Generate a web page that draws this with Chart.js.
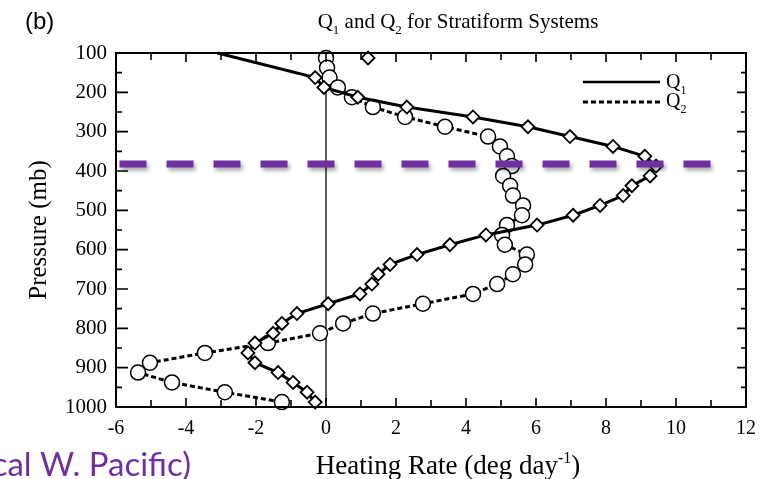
<!DOCTYPE html>
<html><head><meta charset="utf-8">
<script src="https://cdn.jsdelivr.net/npm/chart.js@4/dist/chart.umd.min.js"></script>
<style>html,body{margin:0;padding:0;background:#fff;}#wrap{width:774px;height:479px;position:relative;}canvas{display:block;}</style>
</head><body><div id="wrap"><canvas id="c" width="774" height="479"></canvas></div>
<script>
// Pressure levels (mb)
const levels = [100,112.5,137.5,162.5,187.5,212.5,237.5,262.5,287.5,312.5,337.5,362.5,387.5,412.5,437.5,462.5,487.5,512.5,537.5,562.5,587.5,612.5,637.5,662.5,687.5,712.5,737.5,762.5,787.5,812.5,837.5,862.5,887.5,912.5,937.5,962.5,987.5];
// Q1 heating rate (deg/day)
const q1 = [-3.1,null,null,-0.31,-0.06,0.91,2.31,4.2,5.77,6.97,8.2,9.11,9.43,9.26,8.74,8.49,7.83,7.06,6.03,4.57,3.54,2.6,1.83,1.49,1.31,0.97,0.06,-0.83,-1.26,-1.51,-2.03,-2.23,-2.03,-1.37,-0.94,-0.54,-0.31];
// Q2 heating rate (deg/day)
const q2 = [null,0.0,0.03,0.1,0.34,0.74,1.34,2.26,3.4,4.63,4.97,5.17,5.31,5.06,5.26,5.34,5.63,5.6,5.17,5.03,5.11,5.74,5.69,5.34,4.89,4.2,2.77,1.34,0.49,-0.17,-1.66,-3.46,-5.03,-5.37,-4.4,-2.89,-1.26];
// isolated Q1 marker near the top
const q1ExtraLevel = [112.5];
const q1ExtraValue = [1.2];
// highlighted level (purple dashed line)
const refLevel = [382, 382];
const refX = [-5.9, 11.05];
// zero reference line
const zeroX = [0, 0];
const zeroP = [100, 1000];
// tick labels
const xTicks = [-6,-4,-2,0,2,4,6,8,10,12];
const yTicks = [100,200,300,400,500,600,700,800,900,1000];

const pts = (xs, ps) => xs.map((v,i)=>({x:v, y:ps[i]})).filter(p=>p.x!==null);
const SERIF = '"Liberation Serif", "DejaVu Serif", serif';
const PURPLE = '#7030A0';

function rich(ctx, parts, x, y, size, align) {
  const fs = m => m===0 ? size : Math.round(size*0.6);
  let w = 0;
  parts.forEach(([t,m]) => { ctx.font = fs(m)+'px '+SERIF; w += ctx.measureText(t).width; });
  let cx = align==='center' ? x - w/2 : x;
  parts.forEach(([t,m]) => {
    ctx.font = fs(m)+'px '+SERIF;
    const dy = m===-1 ? size*0.3 : (m===1 ? -size*0.42 : 0);
    ctx.fillText(t, cx, y+dy);
    cx += ctx.measureText(t).width;
  });
  return w;
}

const deco = {
  id: 'deco',
  beforeDatasetDraw(chart, args) {
    if (args.index === 0) {
      const c = chart.ctx; c.save();
      c.shadowColor = 'rgba(0,0,0,0.35)'; c.shadowBlur = 4; c.shadowOffsetX = 2; c.shadowOffsetY = 3;
    }
  },
  afterDatasetDraw(chart, args) { if (args.index === 0) chart.ctx.restore(); },
  afterDraw(chart) {
    const ctx = chart.ctx, a = chart.chartArea, xs = chart.scales.x, ys = chart.scales.y;
    ctx.save();
    ctx.strokeStyle = '#000'; ctx.lineWidth = 2;
    ctx.strokeRect(a.left, a.top, a.right-a.left, a.bottom-a.top);
    ctx.lineWidth = 1.6;
    ctx.beginPath();
    for (let v = -6; v <= 12; v++) {
      const px = xs.getPixelForValue(v);
      const L = v % 2 === 0 ? 9 : 7;
      ctx.moveTo(px, a.bottom); ctx.lineTo(px, a.bottom - L);
      ctx.moveTo(px, a.top); ctx.lineTo(px, a.top + L);
    }
    for (let p = 100; p <= 1000; p += 50) {
      const py = ys.getPixelForValue(p);
      const L = p % 100 === 0 ? 12 : 6;
      ctx.moveTo(a.left, py); ctx.lineTo(a.left + L, py);
      ctx.moveTo(a.right, py); ctx.lineTo(a.right - (p%100===0?9:5), py);
    }
    ctx.stroke();
    ctx.fillStyle = '#000'; ctx.textBaseline = 'alphabetic';
    ctx.font = '24px "Liberation Sans", Arial, sans-serif';
    ctx.fillText('(b)', 25, 29);
    rich(ctx, [['Q',0],['1',-1],[' and Q',0],['2',-1],[' for Stratiform Systems',0]], 458, 28, 21, 'center');
    rich(ctx, [['Heating Rate (deg day',0],['-1',1],[')',0]], 448, 474, 27, 'center');
    ctx.save(); ctx.translate(46, 230); ctx.rotate(-Math.PI/2);
    rich(ctx, [['Pressure (mb)',0]], 0, 0, 25, 'center');
    ctx.restore();
    // legend
    ctx.lineWidth = 2.6;
    ctx.beginPath(); ctx.setLineDash([]); ctx.moveTo(583, 82); ctx.lineTo(660, 82); ctx.stroke();
    ctx.beginPath(); ctx.setLineDash([5,3]); ctx.lineWidth = 3; ctx.moveTo(583, 102); ctx.lineTo(660, 102); ctx.stroke();
    ctx.setLineDash([]);
    rich(ctx, [['Q',0],['1',-1]], 666, 88, 20, 'left');
    rich(ctx, [['Q',0],['2',-1]], 666, 107, 20, 'left');
    ctx.fillStyle = PURPLE;
    ctx.font = '33px Lato, "Open Sans", sans-serif';
    ctx.textAlign = 'right';
    ctx.fillText('(Tropical W. Pacific)', 191, 476);
    ctx.restore();
  }
};

new Chart(document.getElementById('c'), {
  type: 'scatter',
  data: { datasets: [
    { label: 'ref', data: pts(refX, refLevel), showLine: true, borderColor: PURPLE, borderWidth: 7, borderDash: [27,20], borderCapStyle: 'butt', pointRadius: 0 },
    { label: 'Q1top', data: pts(q1ExtraValue, q1ExtraLevel), showLine: false, pointStyle: 'rectRot', pointRadius: 6.5, pointBackgroundColor: '#fff', pointBorderColor: '#000', pointBorderWidth: 1.8 },
    { label: 'Q1', data: pts(q1, levels), showLine: true, spanGaps: true, borderColor: '#000', borderWidth: 3, pointStyle: 'rectRot', pointRadius: c => c.dataIndex === 0 ? 0 : 6.5, pointBackgroundColor: '#fff', pointBorderColor: '#000', pointBorderWidth: 1.8 },
    { label: 'Q2', data: pts(q2, levels), showLine: true, borderColor: '#000', borderWidth: 3, borderDash: [5,3], pointStyle: 'circle', pointRadius: 7.5, pointBackgroundColor: '#fff', pointBorderColor: '#000', pointBorderWidth: 1.5 },
    { label: 'zero', data: pts(zeroX, zeroP), showLine: true, borderColor: '#000', borderWidth: 1.3, pointRadius: 0 }
  ]},
  options: {
    responsive: false, animation: false, clip: false,
    layout: { padding: { top: 53, right: 28, left: 0, bottom: 0 } },
    plugins: { legend: { display: false }, tooltip: { enabled: false }, title: { display: false } },
    elements: { line: { tension: 0 } },
    scales: {
      x: { type: 'linear', min: -6, max: 12,
        afterBuildTicks: s => { s.ticks = xTicks.map(v => ({value: v})); },
        ticks: { color: '#000', font: { family: SERIF, size: 20 }, padding: 10, callback: v => String(v) },
        grid: { display: false, drawTicks: false }, border: { display: false },
        afterFit: s => { s.height = 72; } },
      y: { type: 'linear', reverse: true, min: 100, max: 1000,
        afterBuildTicks: s => { s.ticks = yTicks.map(v => ({value: v})); },
        ticks: { color: '#000', font: { family: SERIF, size: 21 }, padding: 9, callback: v => String(v) },
        grid: { display: false, drawTicks: false }, border: { display: false },
        afterFit: s => { s.width = 116; } }
    }
  },
  plugins: [deco]
});
</script></body></html>
